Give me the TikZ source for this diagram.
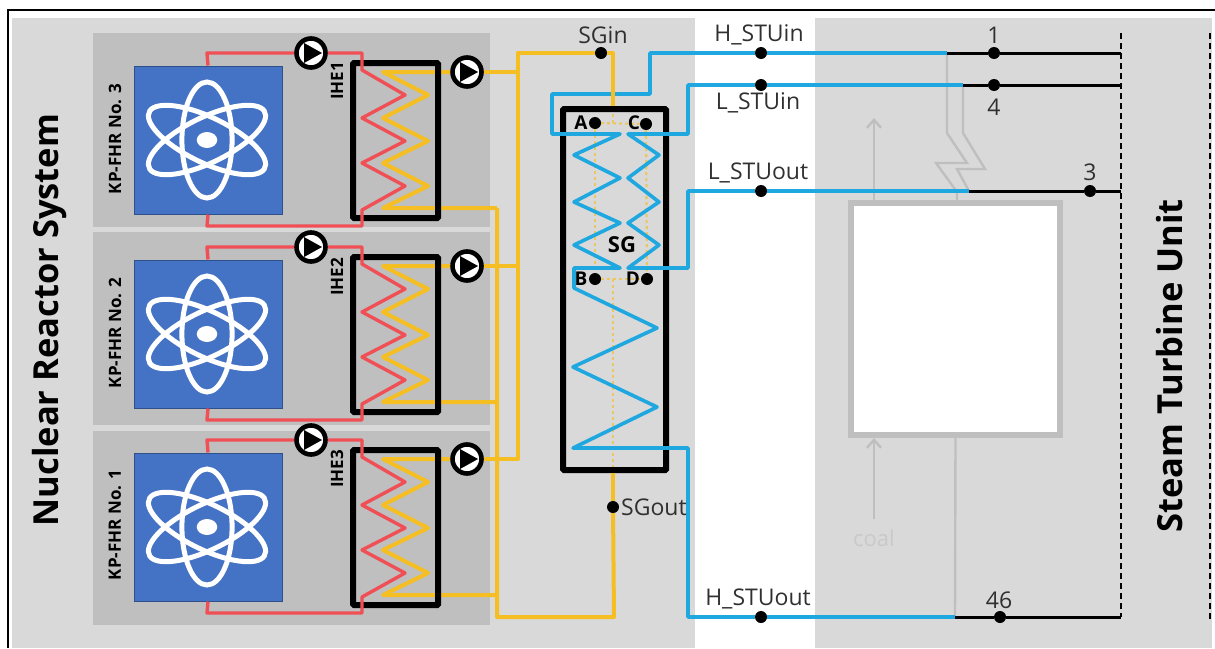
\documentclass[tikz,border=0pt]{standalone}
\usepackage{fontspec}
\setmainfont{Open Sans}
\usetikzlibrary{arrows.meta}

\definecolor{panelgray}{HTML}{D9D9D9}
\definecolor{blockgray}{HTML}{BFBFBF}
\definecolor{reactorblue}{HTML}{4472C4}
\definecolor{redpipecol}{HTML}{EF4F55}
\definecolor{yellowpipecol}{HTML}{F5BE22}
\definecolor{bluepipecol}{HTML}{1FA7E0}
\definecolor{labelgray}{HTML}{303030}

\tikzset{
    redpipe/.style={line width=3.4pt, color=redpipecol, line join=round},
    yellowpipe/.style={line width=4pt, color=yellowpipecol, line join=round},
    yellowdash/.style={line width=2.2pt, color=yellowpipecol!65!panelgray, dash pattern=on 3pt off 3pt},
    bluepipe/.style={line width=3.6pt, color=bluepipecol, line join=round},
    blackpipe/.style={line width=3pt, color=black},
    graypipe/.style={line width=2.4pt, color=blockgray},
    hxbox/.style={draw, line width=6pt, inner sep=0pt, rounded corners=1pt},
    dotnode/.style={circle, fill=black, inner sep=0pt, minimum size=12pt},
    pumpnode/.style={circle, draw=black, fill=white, line width=4.6pt, inner sep=0pt, minimum size=29pt,
        path picture={\fill[black] (path picture bounding box.center) ++(-7,-10) -- ++(18,10) -- ++(-18,10) -- cycle;}},
    atomline/.style={draw=white, line width=5pt},
    streamlabel/.style={font=\fontsize{23}{23}\selectfont, text=labelgray, inner sep=0pt},
    boldlabel/.style={font=\bfseries\fontsize{#1}{#1}\selectfont, text=black, inner sep=0pt},
    sidelabel/.style={font=\bfseries\fontsize{34.5}{34.5}\selectfont, text=black, inner sep=0pt, rotate=90}
}

\def\atomicon#1{ % #1 Center
    \begin{scope}[shift={(#1)}, xscale=1.14]
        \draw[atomline] (0,0) ellipse [x radius=22, y radius=58];
        \draw[atomline, rotate=60] (0,0) ellipse [x radius=22, y radius=58];
        \draw[atomline, rotate=-60] (0,0) ellipse [x radius=22, y radius=58];
        \fill[white] (0,0) ellipse [x radius=9, y radius=8];
    \end{scope}
}

\begin{document}
\begin{tikzpicture}[x=1pt, y=-1pt]
        \useasboundingbox (0,0) rectangle (1215,648);

        % panels
        \fill[panelgray] (12,18) rectangle (695,648);
        \fill[panelgray] (815,18) rectangle (1212,648);
        \draw[line width=2.5pt] (8,648) -- (8,10) -- (1215,10);

        % dots in the steam lines
        \node[dotnode] (SGin) at (601,53) {};
        \node[dotnode] (SGout) at (613,507) {};
        \node[dotnode] (Hin) at (761,53) {};
        \node[dotnode] (Lin) at (761,85) {};
        \node[dotnode] (Lout) at (761,191) {};
        \node[dotnode] (Hout) at (761,617) {};

        % reactor units
        \foreach \dy/\no/\ihe/\kpy/\lab/\blocktop/\blockbot in {0/3/1/139/81/33/227, 194/2/2/139/83/38/231, 387/1/3/138/82/44/238} {
            \begin{scope}[shift={(0,\dy)}]
                \fill[blockgray] (93,\blocktop) rectangle (490,\blockbot);
                \node[draw=reactorblue!70!black, fill=reactorblue, line width=1pt, minimum size=148pt, inner sep=0pt] (reactor\no) at (208,140) {};
                \atomicon{207,140}
                \node[boldlabel=17, rotate=90] (kp\no) at (115,\kpy) {KP-FHR No. \no};
                \node[boldlabel=17, rotate=90] (ihelabel\ihe) at (337,\lab) {IHE\ihe};
                \node[pumpnode] (pumpR\no) at (311,53) {};
                \node[pumpnode] (pumpY\no) at (467,72) {};

                % hot side
                \draw[yellowpipe] (pumpY\no) -- (383,72) -- (428,95) -- (383,118) -- (428,141) -- (383,163) -- (428,186) -- (383,208) -- (497,208);
                \draw[yellowpipe] (pumpY\no) -- (518,72);
                \node[hxbox, minimum width=85pt, minimum height=155pt] (ihe\ihe) at (395.5,140.5) {};

                % salt side
                \draw[redpipe] (reactor\no.north) -- (207,53) -- (pumpR\no);
                \draw[redpipe] (pumpR\no) -- (362,53) -- (362,70) -- (405,95) -- (362,118) -- (405,141) -- (362,163) -- (405,186) -- (362,210) -- (362,226) -- (207,226) -- (reactor\no.south);
            \end{scope}
        }

        % gray plant behind the steam lines
        \node[draw=blockgray, fill=white, line width=5.5pt, minimum width=209pt, minimum height=232pt, inner sep=0pt] (boiler) at (955.5,319) {};
        \coordinate (Hend) at (947,53);
        \coordinate (Lend) at (963,85);
        \coordinate (Loutend) at (969,191);
        \coordinate (Houtend) at (955,617);
        \draw[graypipe] (Hend) -- (947,133) -- (967,163) -- (936,163) -- (957,192) -- (957,203);
        \draw[graypipe] (Lend) -- (963,133) -- (985,169) -- (957,169) -- (Loutend);
        \draw[graypipe] (boiler.south) -- (Houtend);
        \draw[graypipe, -{Straight Barb[length=8pt, width=14pt]}] (874,203) -- (874,118);
        \draw[graypipe, -{Straight Barb[length=8pt, width=14pt]}] (874,519) -- (874,438);
        \node[font=\fontsize{22}{22}\selectfont, text=blockgray!85!white, inner sep=0pt] (coal) at (874,538) {coal};

        % steam generator
        \node[hxbox, minimum width=103pt, minimum height=361pt] (SGbox) at (614.5,289.5) {};
        \node[dotnode] (A) at (595,123) {};
        \node[dotnode] (C) at (646,124) {};
        \node[dotnode] (B) at (595,279) {};
        \node[dotnode] (D) at (647,279) {};
        \draw[yellowdash] (A) -- (C);
        \draw[yellowdash] (A) -- (B);
        \draw[yellowdash] (C) -- (D);
        \draw[yellowdash] (B) -- (D);
        \draw[yellowdash] (613,123) -- (613,112);
        \draw[yellowdash] (613,279) -- (613,467);

        % salt headers
        \draw[yellowpipe] (SGin) -- (518,53) -- (518,459) -- (pumpY1);
        \draw[yellowpipe] (518,266) -- (pumpY2);
        \draw[yellowpipe] (497,208) -- (497,617) -- (614,617) -- (SGout);
        \draw[yellowpipe] (SGout) -- (SGbox.south -| SGout);

        % steam lines
        \draw[bluepipe] (Hin) -- (650,53) -- (650,94) -- (552,94) -- (552,134) -- (620,134) -- (574,155) -- (620,178) -- (574,202) -- (620,223) -- (574,245) -- (620,268) -- (574,268) -- (574,288) -- (657,328) -- (573,367) -- (657,407) -- (573,448) -- (688,448) -- (688,617) -- (Hout);
        \draw[bluepipe] (Lin) -- (688,85) -- (688,134) -- (628,134) -- (659,155) -- (628,178) -- (659,202) -- (628,223) -- (659,245) -- (628,268) -- (688,268) -- (688,191) -- (Lout);
        \draw[bluepipe] (Hin) -- (Hend);
        \draw[bluepipe] (Lin) -- (Lend);
        \draw[bluepipe] (Lout) -- (Loutend);
        \draw[bluepipe] (Hout) -- (Houtend);
        \draw[yellowpipe] (SGin) -- (613,53) -- (613,106);

        % turbine side
        \draw[line width=1.3pt, dash pattern=on 6pt off 4pt] (1121,33) -- (1121,617);
        \draw[line width=1.3pt, dash pattern=on 6pt off 4pt] (1210,33) -- (1210,620);
        \node[dotnode] (n1) at (994,53) {};
        \node[dotnode] (n4) at (994,85) {};
        \node[dotnode] (n3) at (1090,191) {};
        \node[dotnode] (n46) at (1000,617) {};
        \coordinate (t1) at (1121,53);
        \coordinate (t4) at (1121,85);
        \coordinate (t3) at (1121,191);
        \coordinate (t46) at (1121,617);
        \draw[blackpipe] (Hend) -- (n1);
        \draw[blackpipe] (n1) -- (t1);
        \draw[blackpipe] (Lend) -- (n4);
        \draw[blackpipe] (n4) -- (t4);
        \draw[blackpipe] (Loutend) -- (n3);
        \draw[blackpipe] (n3) -- (t3);
        \draw[blackpipe] (Houtend) -- (n46);
        \draw[blackpipe] (n46) -- (t46);

        % labels
        \node[streamlabel] (SGinlabel) at (603,35) {SGin};
        \node[streamlabel, anchor=west] (SGoutlabel) at (621,507) {SGout};
        \node[streamlabel] (Hinlabel) at (759,35) {H\_STUin};
        \node[streamlabel] (Linlabel) at (758,103) {L\_STUin};
        \node[streamlabel] (Loutlabel) at (758,173) {L\_STUout};
        \node[streamlabel] (Houtlabel) at (758,599) {H\_STUout};
        \node[streamlabel] (l1) at (994,35) {1};
        \node[streamlabel] (l4) at (994,107) {4};
        \node[streamlabel] (l3) at (1090,172) {3};
        \node[streamlabel] (l46) at (999,600) {46};
        \node[boldlabel=19] (Alabel) at (581,123) {A};
        \node[boldlabel=19] (Clabel) at (634,123) {C};
        \node[boldlabel=19] (Blabel) at (581,279) {B};
        \node[boldlabel=19] (Dlabel) at (633,279) {D};
        \node[boldlabel=22] (SGlabel) at (622,245) {SG};
        \node[sidelabel] (nrs) at (50,320) {Nuclear Reactor System};
        \node[sidelabel] (stu) at (1170,366) {Steam Turbine Unit};
\end{tikzpicture}
\end{document}
